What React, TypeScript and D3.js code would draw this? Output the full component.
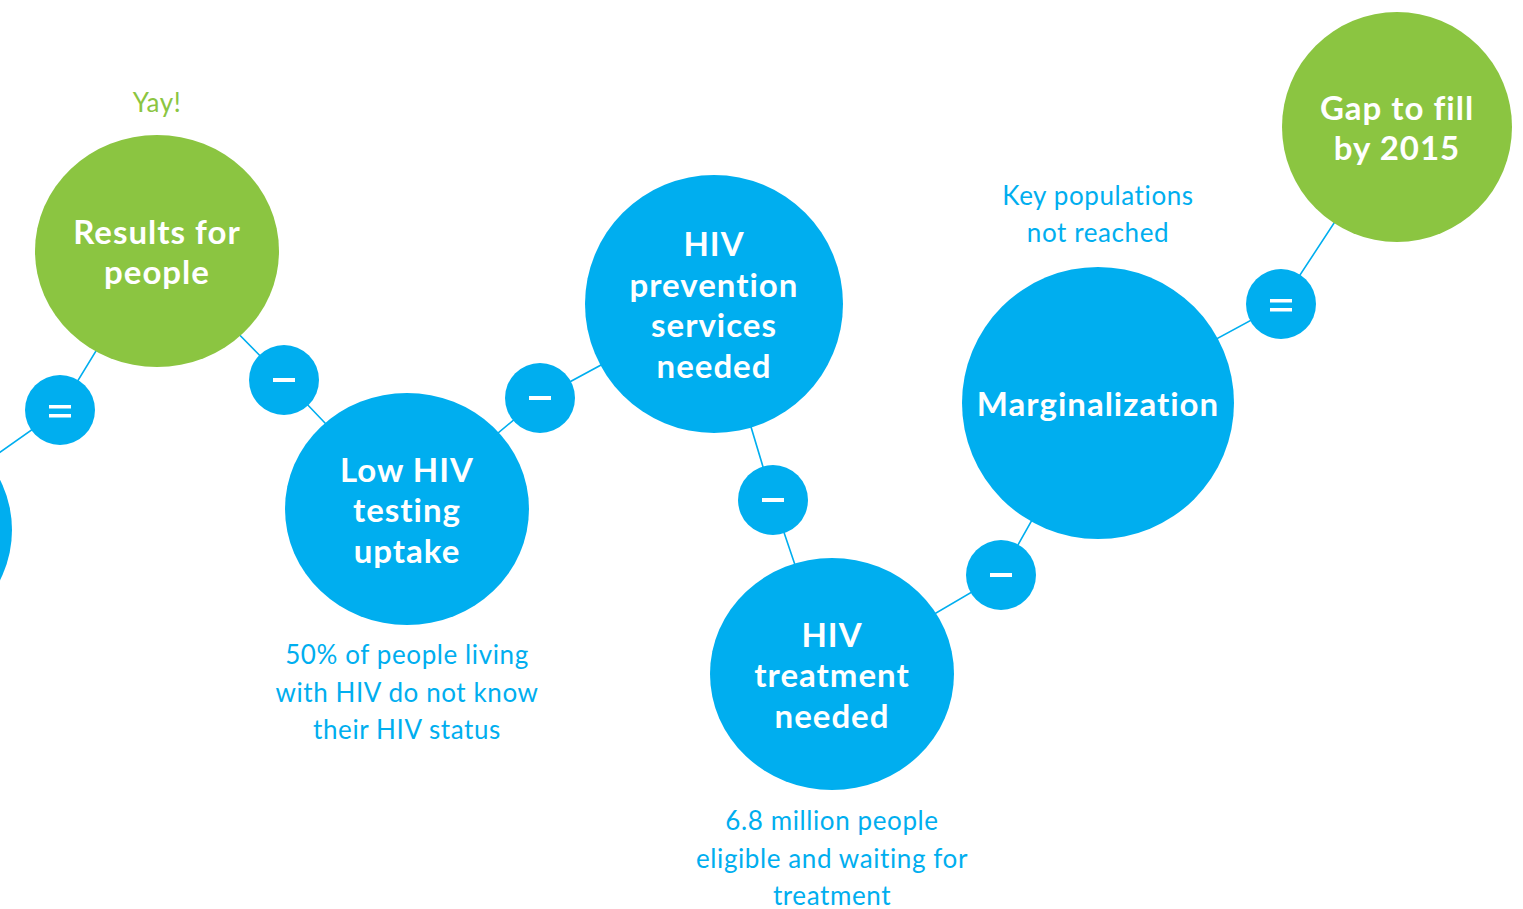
import { useRef, useEffect } from "react";
import * as d3 from "d3";

// chain of causes, left to right
const nodeLabels = [
  [""],
  ["Results for", "people"],
  ["Low HIV", "testing", "uptake"],
  ["HIV", "prevention", "services", "needed"],
  ["HIV", "treatment", "needed"],
  ["Marginalization"],
  ["Gap to fill", "by 2015"],
];
const nodeKinds = ["gap", "result", "gap", "gap", "gap", "gap", "result"];
const operators = ["=", "−", "−", "−", "−", "="];

const noteNodes = [1, 2, 4, 5];
const noteKinds = ["result", "gap", "gap", "gap"];
const noteLines = [
  ["Yay!"],
  ["50% of people living", "with HIV do not know", "their HIV status"],
  ["6.8 million people", "eligible and waiting for", "treatment"],
  ["Key populations", "not reached"],
];

// layout (pixels): cx, cy, rx, ry
const nodePos = [
  [-110, 530, 122, 116],
  [157, 251, 122, 116],
  [407, 509, 122, 116],
  [714, 304, 129, 129],
  [832, 674, 122, 116],
  [1098, 403, 136, 136],
  [1397, 127, 115, 115],
];
const opPos = [
  [60, 410],
  [284, 380],
  [540, 398],
  [773, 500],
  [1001, 575],
  [1281, 304],
];
// signed distance from circle edge to nearest note line (negative = above)
const noteGap = [-32, 30, 31, -34];

export default function App() {
  const svgRef = useRef(null);

  useEffect(() => {
    const w = 1523;
    const h = 909;
    const blue = "#00aeef";
    const green = "#8bc541";
    const color = d3.scaleOrdinal().domain(["gap", "result"]).range([blue, green]);

    const svg = d3.select(svgRef.current).attr("width", w).attr("height", h);
    svg.selectAll("*").remove();

    // connectors through every circle centre
    const pts = [];
    nodePos.forEach((p, i) => {
      pts.push([p[0], p[1]]);
      if (opPos[i]) pts.push(opPos[i]);
    });
    svg
      .append("path")
      .attr("d", d3.line()(pts))
      .attr("fill", "none")
      .attr("stroke", blue)
      .attr("stroke-width", 1.6);

    // big circles
    const nodes = svg
      .selectAll("g.node")
      .data(nodeLabels)
      .join("g")
      .attr("class", "node")
      .attr("transform", (d, i) => `translate(${nodePos[i][0]},${nodePos[i][1]})`);
    nodes
      .append("ellipse")
      .attr("rx", (d, i) => nodePos[i][2])
      .attr("ry", (d, i) => nodePos[i][3])
      .attr("fill", (d, i) => color(nodeKinds[i]));
    nodes.each(function (lines) {
      const lh = 40.5;
      const y0 = 1.5 - ((lines.length - 1) * lh) / 2;
      d3.select(this)
        .selectAll("text")
        .data(lines)
        .join("text")
        .attr("y", (d, j) => y0 + j * lh)
        .attr("dy", "0.35em")
        .attr("text-anchor", "middle")
        .attr("fill", "#fff")
        .style("font-family", "Lato, sans-serif")
        .style("font-weight", 700)
        .style("font-size", "33px")
        .style("letter-spacing", "1px")
        .style("font-variant-ligatures", "none")
        .text((d) => d);
    });

    // operator circles
    const ops = svg
      .selectAll("g.op")
      .data(operators)
      .join("g")
      .attr("class", "op")
      .attr("transform", (d, i) => `translate(${opPos[i][0]},${opPos[i][1]})`);
    ops.append("circle").attr("r", 35).attr("fill", blue);
    ops.each(function (d) {
      const g = d3.select(this);
      const bars = d === "=" ? [-5, 4] : [-2];
      g.selectAll("rect")
        .data(bars)
        .join("rect")
        .attr("x", -11)
        .attr("y", (b) => b)
        .attr("width", 22)
        .attr("height", d === "=" ? 3.5 : 4)
        .attr("fill", "#fff");
    });

    // annotations
    noteLines.forEach((lines, k) => {
      const [cx, cy, , ry] = nodePos[noteNodes[k]];
      const lh = 37.5;
      const gap = noteGap[k];
      const y0 = gap > 0 ? cy + ry + gap : cy - ry + gap - (lines.length - 1) * lh;
      svg
        .append("g")
        .selectAll("text")
        .data(lines)
        .join("text")
        .attr("x", cx)
        .attr("y", (d, j) => y0 + j * lh)
        .attr("dy", "0.35em")
        .attr("text-anchor", "middle")
        .attr("fill", color(noteKinds[k]))
        .style("font-family", "Lato, sans-serif")
        .style("font-weight", 400)
        .style("font-size", "26px")
        .style("letter-spacing", "0.6px")
        .text((d) => d);
    });
  }, []);

  return (
    <div className="chain-chart">
      <svg ref={svgRef} style={{ position: "absolute", left: 0, top: 0 }}></svg>
    </div>
  );
}
